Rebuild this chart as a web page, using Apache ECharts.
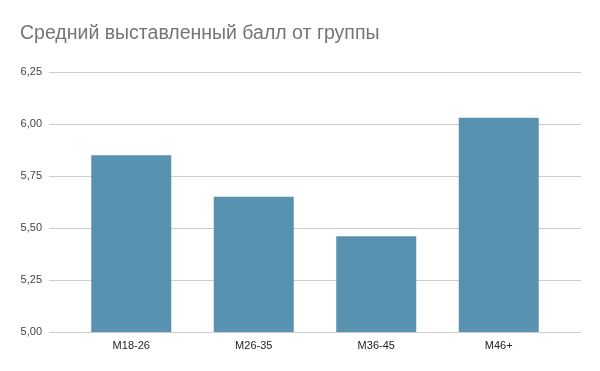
<!DOCTYPE html>
<html><head><meta charset="utf-8">
<script src="https://cdn.jsdelivr.net/npm/echarts@6/dist/echarts.min.js"></script>
<style>html,body{margin:0;padding:0;background:#fff}#c{width:600px;height:371px}</style>
</head><body><div id="c"></div>
<script>
const categories = ['M18-26', 'M26-35', 'M36-45', 'M46+'];
const values = [5.85, 5.65, 5.46, 6.03];
const titleText = 'Средний выставленный балл от группы';
const yMin = 5, yMax = 6.25, yStep = 0.25;

const chart = echarts.init(document.getElementById('c'));
const font = 'Liberation Sans, Arial, sans-serif';
chart.setOption({
  animation: false,
  title: { text: titleText, left: 15, top: 19,
    textStyle: { fontFamily: font, fontSize: 19.5, fontWeight: 'normal', color: '#757575' } },
  grid: [
    { left: 49, right: 19, top: 72, bottom: 39 },
    { left: 70, right: 40, top: 72, bottom: 39 }
  ],
  xAxis: [
    { type: 'category', gridIndex: 0, data: categories, show: false },
    { type: 'category', gridIndex: 1, data: categories,
      axisLine: { show: false }, axisTick: { show: false },
      axisLabel: { fontFamily: font, fontSize: 11, color: '#222', margin: 8 } }
  ],
  yAxis: [
    { type: 'value', gridIndex: 0, min: yMin, max: yMax, interval: yStep,
      axisLine: { show: false }, axisTick: { show: false },
      splitLine: { lineStyle: { color: '#cccccc', width: 1 } },
      axisLabel: { fontFamily: font, fontSize: 11, color: '#444', margin: 7,
        formatter: v => v.toFixed(2).replace('.', ',') } },
    { type: 'value', gridIndex: 1, min: yMin, max: yMax, interval: yStep, show: false }
  ],
  series: [{
    type: 'bar', xAxisIndex: 1, yAxisIndex: 1, data: values,
    barWidth: 80,
    itemStyle: { color: '#5892b0' }
  }]
});
</script></body></html>
